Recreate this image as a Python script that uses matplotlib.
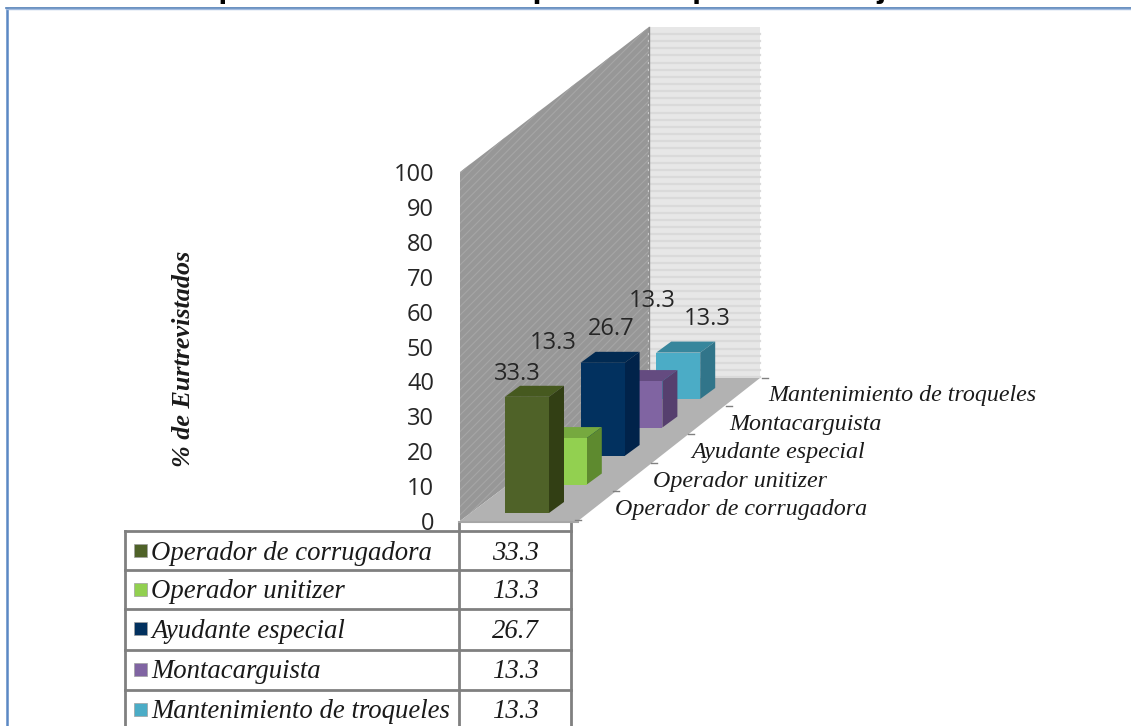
import matplotlib
matplotlib.use('Agg')
import matplotlib.pyplot as plt
from matplotlib.patches import Polygon, Rectangle
import numpy as np

# chart values
categories = ['Operador de corrugadora', 'Operador unitizer', 'Ayudante especial',
              'Montacarguista', 'Mantenimiento de troqueles']
values = [33.3, 13.3, 26.7, 13.3, 13.3]
value_ticks = [0, 10, 20, 30, 40, 50, 60, 70, 80, 90, 100]
title = 'Ocupación en áreas en que desempeñan trabajado'
y_title = '% de Eurtrevistados'

front_colors = ['#4f6228', '#92d050', '#02315f', '#8064a2', '#4bacc6']
top_colors = ['#46591f', '#76a93f', '#012a52', '#644b80', '#37869c']
side_colors = ['#323f14', '#5e8a2f', '#01234a', '#563f6e', '#31758a']

# layout in pixels of the 1131x726 picture
PX_PER_UNIT = 3.49
STEP_X, STEP_Y = 37.8, -28.5
BAR_W = 44
BAR_DX, BAR_DY = 15, -11
label_offsets = [(12, -23), (10, -95), (31, -34), (34, -80), (51, -34)]

SANS = 'Open Sans'
SERIF = 'Liberation Serif'
TEXT_COLOR = '#262626'
LINE_COLOR = '#808080'

plt.rcParams['hatch.linewidth'] = 0.8

fig = plt.figure(figsize=(11.31, 7.26), dpi=100)
ax = fig.add_axes([0, 0, 1, 1])
ax.set_xlim(0, 1131)
ax.set_ylim(726, 0)
ax.axis('off')


def value_y(v, base=521):
    return base - v * PX_PER_UNIT


def draw_bar(i, v):
    x0 = 505 + i * STEP_X
    y0 = 513 + i * STEP_Y
    top = y0 - v * PX_PER_UNIT
    ax.add_patch(Polygon([(x0, top), (x0 + BAR_W, top),
                          (x0 + BAR_W + BAR_DX, top + BAR_DY), (x0 + BAR_DX, top + BAR_DY)],
                         fc=top_colors[i], ec='none', zorder=3 + i * -0.1))
    ax.add_patch(Polygon([(x0 + BAR_W, top), (x0 + BAR_W + BAR_DX, top + BAR_DY),
                          (x0 + BAR_W + BAR_DX, y0 + BAR_DY), (x0 + BAR_W, y0)],
                         fc=side_colors[i], ec='none', zorder=3 + i * -0.1))
    ax.add_patch(Rectangle((x0, top), BAR_W, y0 - top,
                           fc=front_colors[i], ec='none', zorder=3 + i * -0.1))
    dx, dy = label_offsets[i]
    ax.text(x0 + dx, top + dy, f'{v:.1f}', family=SANS, fontsize=17, color=TEXT_COLOR,
            ha='center', va='center', zorder=5)


# frame of the slide, cut by the picture on the other sides
ax.plot([6.8, 6.8], [9, 726], color='#5b88c4', lw=1.8)
ax.plot([6, 1131], [8, 8], color='#4f7db5', lw=1.2)
ax.plot([6, 1131], [9.3, 9.3], color='#a3bce0', lw=1.0)

# title runs off the top edge
ax.text(550, -3, title, family='Liberation Sans', weight='bold', fontsize=23.5,
        ha='center', va='baseline', color='black')

# walls and floor
ax.add_patch(Polygon([(460, 172), (649, 27), (649, 378), (460, 521)],
                     fc='#979797', ec='#a6a6a6', hatch='////', lw=0, zorder=1))
ax.add_patch(Rectangle((649, 27), 111, 351, fc='#e7e7e7', ec='none', zorder=1))
for yy in np.arange(34, 378, 7.15):
    ax.plot([649, 760], [yy, yy], color='#dadada', lw=1.6, zorder=1.1)
ax.plot([649, 649], [27, 378], color='#8c8c8c', lw=1, zorder=1.2)
ax.add_patch(Polygon([(460, 521), (649, 378), (760, 378), (578, 521)],
                     fc='#b2b2b2', ec='none', zorder=1.5))

# value axis
for t in value_ticks:
    ax.text(434, value_y(t) + 3, str(t), family=SANS, fontsize=17, color=TEXT_COLOR,
            ha='right', va='center')
ax.text(183, 359, y_title, family=SERIF, style='italic', weight='bold', fontsize=18.8,
        rotation=90, ha='center', va='center', color='#1a1a1a')

# depth axis ticks and labels
for i, name in enumerate(categories):
    ax.plot([575 + i * STEP_X, 581 + i * STEP_X],
            [519.5 + i * -28.4, 519.5 + i * -28.4], color=LINE_COLOR, lw=1)
    ax.text(615 + i * 38.2, 510 - i * 28.6, name, family=SERIF, style='italic', fontsize=17.3,
            ha='left', va='center', color='#1a1a1a')
ax.plot([762, 768], [377.5, 377.5], color=LINE_COLOR, lw=1)

# bars, far ones first
for i in range(len(values) - 1, -1, -1):
    draw_bar(i, values[i])

# data table, last row runs off the bottom edge
rows_y = [531, 570, 609, 650, 690]
for yy in rows_y:
    ax.plot([125, 571], [yy, yy], color=LINE_COLOR, lw=2, zorder=6)
ax.plot([125, 125], [531, 726], color=LINE_COLOR, lw=2, zorder=6)
ax.plot([459, 459], [522, 726], color=LINE_COLOR, lw=2, zorder=6)
ax.plot([571, 571], [522, 726], color=LINE_COLOR, lw=2, zorder=6)
ax.plot([459, 578], [522, 522], color='#a6a6a6', lw=1.5, zorder=6)
for i, (name, v) in enumerate(zip(categories, values)):
    cy = rows_y[i] + 19
    ax.add_patch(Rectangle((134, cy - 6.5), 13, 13, fc=front_colors[i], ec='#a0a0a0', lw=0.5, zorder=6))
    ax.text(151, cy + 3, name, family=SERIF, style='italic', fontsize=19.3,
            ha='left', va='center', color='#1a1a1a', zorder=6)
    ax.text(515, cy + 3, f'{v:.1f}', family=SERIF, style='italic', fontsize=19.3,
            ha='center', va='center', color='#1a1a1a', zorder=6)

fig.savefig('out.png', dpi=100)
